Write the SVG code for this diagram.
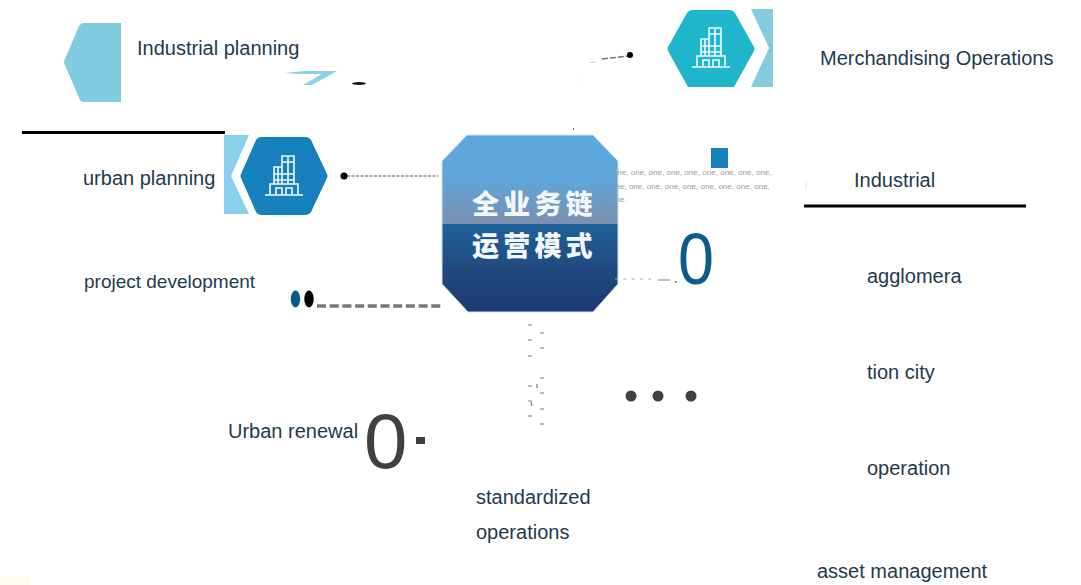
<svg xmlns="http://www.w3.org/2000/svg" width="1081" height="585" viewBox="0 0 1081 585">
<style>
.l{font-family:"Liberation Sans",Arial,sans-serif;font-size:20px;fill:#1f3a4d}
.s{font-family:"Liberation Sans",Arial,sans-serif;font-size:8.05px;fill:#9a9a9a}
.c{font-family:"Noto Sans CJK SC",sans-serif;font-size:27px;font-weight:900;fill:#f2f6f8;letter-spacing:4.2px}
.b{fill:none;stroke:#f1fbfd;stroke-width:1.6}
.d{fill:none;stroke:#777}
</style>
<defs>
<linearGradient id="g" x1="0" y1="0" x2="0" y2="1">
<stop offset="0" stop-color="#5ca8de"/><stop offset=".25" stop-color="#5ea5d9"/><stop offset=".5" stop-color="#7c8fae"/>
<stop offset=".5" stop-color="#1d6299"/><stop offset=".75" stop-color="#224a80"/><stop offset="1" stop-color="#1c3a70"/>
</linearGradient>
<g id="i">
<path class="b" d="M-19 20H19M-14 20V9H14V20M-8 20V13H-2V20M2 20V13H8V20M-10 9V-8H-2V9M-2 -8V-19H10V9H-2M-10 -1H10M-10 5H10M4 -19V9M-6 -8V9M-2 -13H10"/>
</g>
</defs>
<rect x="0" y="577" width="30" height="8" fill="#fdfbf1"/>
<g id="node-center">
<path fill="url(#g)" stroke="#c9e3f4" d="M467 135H593L618 161V284L593 312H468L442 284V161Z"/>
<text class="c" x="472" y="214">全业务链</text>
<text class="c" x="472" y="256">运营模式</text>
</g>
<g id="connectors">
<path stroke="#555" fill="none" stroke-width="1.2" stroke-dasharray="3 1.500" d="M347 176H438"/>
<path class="d" stroke-width="3.5" stroke-dasharray="9 3.7" d="M317 306H441"/>
<path class="d" stroke-width="1.5" stroke-dasharray="6 2" d="M602 59L628 56"/>
<path stroke="#ccc" fill="none" stroke-width="1" d="M590 62.500L596 62M581 80h1"/>
<path stroke="#a5a5a5" fill="none" stroke-width="1" stroke-dasharray="3 5.300" d="M615 279H652"/>
<path d="M658 280H670" stroke="#777" stroke-width="1"/>
<path class="d" stroke-width="1.2" d="M528 325h4M540 333h4M528 340h4M540 348h4M528 356h4M540 378h4M528 386h4M540 393h4M528 401h4M540 409h4M528 416h4M540 424h4M537 384v4M531 402l1 4"/>
<path fill="#777" d="M573 128h1v2h-1zM675 281h1.500v2h-1.500z"/>
</g>
<g id="node-industrial-planning">
<path fill="#7fcbdf" d="M121 23H84Q81 23 79 26L65 59Q63 62 65 65L80 100Q81 102 84 102H121Z"/>
<text class="l" x="137" y="55">Industrial planning</text>
<path fill="#86d2ea" d="M284 73L305 71H337L312 85H303L322 74H298Z"/>
<ellipse cx="359" cy="83.500" rx="7" ry="1.500" fill="#111"/>
</g>
<g id="node-urban-planning">
<path d="M22 132.500H225" stroke="#000" stroke-width="3"/>
<path fill="#8ad0ee" d="M224 135H249L231 176L249 214H224Z"/>
<path fill="#1580bb" d="M261 137H306Q309 137 311 140L327 174Q328 176 327 178L311 212Q309 215 306 215H261Q258 215 256 212L241 178Q240 176 241 174L256 140Q258 137 261 137Z"/>
<use href="#i" x="284" y="175"/>
<circle cx="344" cy="176" r="3.500" fill="#000"/>
<text class="l" x="83" y="185">urban planning</text>
</g>
<g id="node-merchandising">
<path fill="#1fb5ca" d="M692 10H730Q733 10 735 13L754 47Q755 49 754 51L734 87H688L668 51Q667 49 668 47L687 13Q689 10 692 10Z"/>
<use href="#i" x="711" y="47"/>
<path fill="#84cbe0" d="M751 9H773V87H751L769 48Z"/>
<circle cx="630" cy="55" r="3" fill="#000"/>
<text class="l" x="820" y="65">Merchandising Operations</text>
</g>
<g id="node-industrial">
<rect x="711" y="148" width="17" height="20" fill="#1580bb"/>
<text class="s" x="611" y="175">One, one, one, one, one, one, one, one, one,</text>
<text class="s" x="611" y="189">one, one, one, one, one, one, one, one, one,</text>
<text class="s" x="611" y="202">one.</text>
<text x="678" y="284" textLength="36" lengthAdjust="spacingAndGlyphs" style="font-family:'Liberation Sans',Arial,sans-serif;font-size:72px;fill:#0b5c8a">0</text>
<text class="l" x="854" y="187">Industrial</text>
<path d="M804 206H1026" stroke="#000" stroke-width="3"/>
<path d="M806 182v7" stroke="#cfe8f3" stroke-width="1"/>
</g>
<g id="node-project-development">
<text class="l" x="84" y="288" style="font-size:19px">project development</text>
<ellipse cx="295.500" cy="299" rx="4.700" ry="8.500" fill="#0b5c8a"/>
<ellipse cx="309" cy="299" rx="4.700" ry="8.500" fill="#000"/>
</g>
<g id="node-urban-renewal">
<text class="l" x="228" y="438">Urban renewal</text>
<text x="364" y="468" style="font-family:'Liberation Sans',Arial,sans-serif;font-size:78px;fill:#404040">0</text>
<rect x="416" y="437" width="9" height="7" fill="#404040"/>
</g>
<g id="node-standardized">
<text class="l" x="476" y="504">standardized</text>
<text class="l" x="476" y="539">operations</text>
<circle cx="631" cy="396" r="5.500" fill="#404040"/>
<circle cx="658" cy="396" r="5.500" fill="#404040"/>
<circle cx="691" cy="396" r="5.500" fill="#404040"/>
</g>
<g id="node-agglomeration">
<text class="l" x="867" y="283">agglomera</text>
<text class="l" x="867" y="379">tion city</text>
<text class="l" x="867" y="475">operation</text>
<text class="l" x="817" y="578">asset management</text>
</g>
</svg>
